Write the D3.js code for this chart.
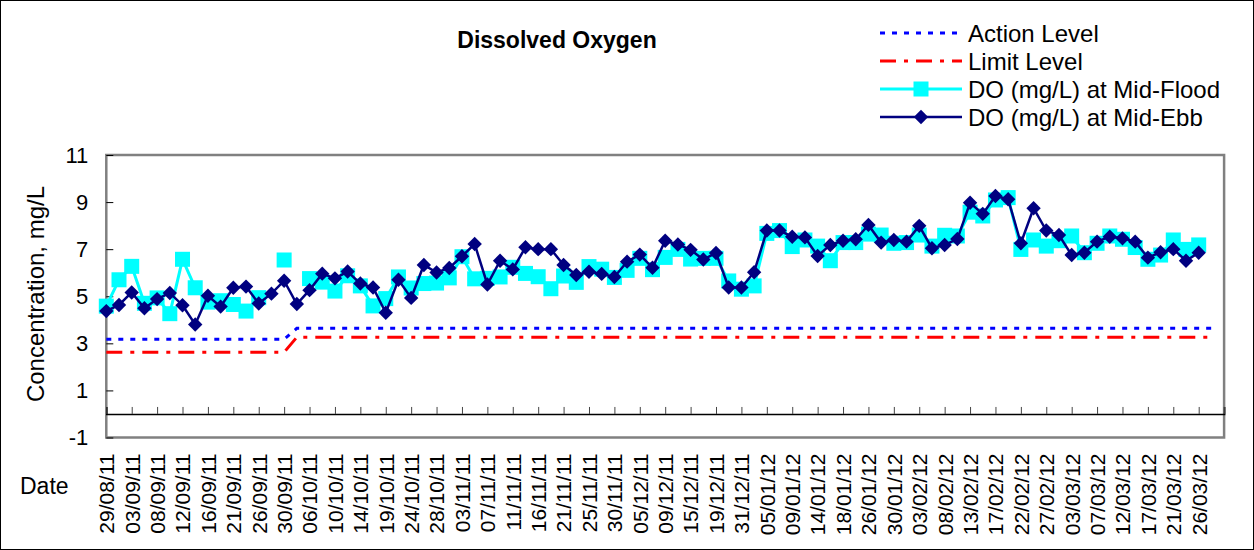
<!DOCTYPE html>
<html>
<head>
<meta charset="utf-8">
<script src="https://cdn.jsdelivr.net/npm/d3@7"></script>
<style>
  html, body { margin: 0; padding: 0; background: #fff; }
  svg { display: block; font-family: Arial, "Liberation Sans", sans-serif; }
</style>
</head>
<body>
<svg id="chart" width="1254" height="550"></svg>
<script>
// Dissolved oxygen monitoring, Aug 2011 - Mar 2012 (one value per survey)
const tickLabels = [
  "29/08/11","03/09/11","08/09/11","12/09/11","16/09/11","21/09/11","26/09/11","30/09/11",
  "06/10/11","10/10/11","14/10/11","19/10/11","24/10/11","28/10/11","03/11/11","07/11/11",
  "11/11/11","16/11/11","21/11/11","25/11/11","30/11/11","05/12/11","09/12/11","15/12/11",
  "19/12/11","31/12/11","05/01/12","09/01/12","14/01/12","18/01/12","26/01/12","30/01/12",
  "03/02/12","08/02/12","13/02/12","17/02/12","22/02/12","27/02/12","03/03/12","07/03/12",
  "12/03/12","17/03/12","21/03/12","26/03/12"
];

const doMidFlood = [
  4.58, 5.70, 6.27, 4.70, 4.93, 4.26, 6.57, 5.36, 4.75, 4.81,
  4.65, 4.37, 4.94, null, 6.54, null, 5.75, 5.60, 5.22, 5.87,
  5.44, 4.59, 4.90, 5.82, 5.35, 5.54, 5.56, 5.78, 6.68, 5.74,
  5.76, 5.82, 6.23, 5.97, 5.83, 5.32, 5.86, 5.59, 6.26, 6.15,
  5.80, 6.10, 6.61, 6.13, 6.65, 6.99, 6.58, 6.61, 6.61, 5.65,
  5.30, 5.44, 7.67, 7.79, 7.11, 7.39, 7.13, 6.51, 7.28, 7.28,
  7.64, 7.60, 7.25, 7.28, 7.60, 7.13, 7.59, 7.56, 8.57, 8.41,
  9.09, 9.19, 6.99, 7.39, 7.13, 7.36, 7.56, 6.85, 7.25, 7.56,
  7.42, 7.07, 6.57, 6.75, 7.39, 6.99, 7.18
];

const doMidEbb = [
  4.37, 4.63, 5.16, 4.49, 4.88, 5.14, 4.62, 3.80, 5.02, 4.56,
  5.36, 5.41, 4.69, 5.11, 5.66, 4.67, 5.26, 5.96, 5.76, 6.05,
  5.54, 5.37, 4.30, 5.70, 4.93, 6.33, 6.01, 6.20, 6.70, 7.22,
  5.50, 6.51, 6.14, 7.08, 7.00, 7.00, 6.33, 5.90, 6.04, 5.95,
  5.82, 6.47, 6.77, 6.21, 7.36, 7.20, 6.97, 6.56, 6.84, 5.37,
  5.37, 6.02, 7.79, 7.79, 7.53, 7.50, 6.71, 7.18, 7.36, 7.42,
  8.03, 7.28, 7.39, 7.32, 7.99, 7.04, 7.18, 7.43, 8.97, 8.50,
  9.26, 9.12, 7.25, 8.74, 7.79, 7.60, 6.75, 6.85, 7.32, 7.53,
  7.46, 7.32, 6.64, 6.87, 7.00, 6.51, 6.85
];

// Action / limit levels: [survey index, level]
const actionLevel = [[0, 3.17], [14, 3.17], [15, 3.64], [87, 3.64]];
const limitLevel  = [[0, 2.62], [14, 2.62], [15, 3.26], [87, 3.26]];

const yTicks = [-1, 1, 3, 5, 7, 9, 11];
const categoryCount = 89;

const svg = d3.select("#chart");
const W = 1254, H = 550;
const plot = { left: 106.3, right: 1224.1, top: 155, bottom: 437.5 };

const x = d3.scaleLinear().domain([0, categoryCount - 1]).range([plot.left, plot.right]);
const y = d3.scaleLinear().domain([-1, 11]).range([plot.bottom, plot.top]);

// outer chart border
svg.append("rect").attr("x", 0.5).attr("y", 0.5).attr("width", W - 1).attr("height", H - 1)
  .attr("fill", "#fff").attr("stroke", "#000").attr("stroke-width", 1);

// plot area
svg.append("rect")
  .attr("x", plot.left).attr("y", plot.top)
  .attr("width", plot.right - plot.left).attr("height", plot.bottom - plot.top)
  .attr("fill", "#fff").attr("stroke", "#808080").attr("stroke-width", 2.5);

// y axis (ticks inside the plot)
const yAxis = svg.append("g").attr("transform", `translate(${plot.left},0)`)
  .call(d3.axisLeft(y).tickValues(yTicks).tickSize(-7).tickPadding(18).tickFormat((d) => String(d)));
yAxis.select(".domain").remove();
yAxis.selectAll(".tick line").attr("stroke", "#000").attr("stroke-width", 1);
yAxis.selectAll(".tick text").attr("font-size", 22).attr("fill", "#000")
  .attr("font-family", "Arial, 'Liberation Sans', sans-serif");

// zero line with category tick marks
const zeroY = y(0);
const tickIdx = d3.range(0, categoryCount, 2);
const xTickAxis = svg.append("g").attr("transform", `translate(0,${zeroY})`)
  .call(d3.axisBottom(x).tickValues(tickIdx).tickSize(-7).tickFormat(""));
xTickAxis.select(".domain").attr("stroke", "#000").attr("stroke-width", 1.6);
xTickAxis.selectAll(".tick line").attr("stroke", "#444").attr("stroke-width", 1);

// category labels below the plot
const xLabelAxis = svg.append("g").attr("transform", `translate(0,${plot.bottom})`)
  .call(d3.axisBottom(x).tickValues(tickLabels.map((d, i) => i * 2)).tickSize(0)
    .tickFormat((d) => tickLabels[d / 2]));
xLabelAxis.select(".domain").remove();
xLabelAxis.selectAll(".tick text")
  .attr("font-size", 21).attr("fill", "#000")
  .attr("font-family", "Arial, 'Liberation Sans', sans-serif")
  .attr("text-anchor", "end")
  .attr("transform", "rotate(-90)")
  .attr("x", -16).attr("y", 0).attr("dy", "0.35em");

// level lines
const levelLine = d3.line().x((d) => x(d[0])).y((d) => y(d[1]));
svg.append("path").datum(actionLevel).attr("d", levelLine)
  .attr("fill", "none").attr("stroke", "#0000FF").attr("stroke-width", 3)
  .attr("stroke-dasharray", "5,7");
svg.append("path").datum(limitLevel).attr("d", levelLine)
  .attr("fill", "none").attr("stroke", "#FF0000").attr("stroke-width", 3)
  .attr("stroke-dasharray", "16,8,4,8");

// Mid-Flood series
const seriesLine = d3.line().defined((d) => d != null).x((d, i) => x(i)).y((d) => y(d));
svg.append("path").datum(doMidFlood).attr("d", seriesLine)
  .attr("fill", "none").attr("stroke", "#00FFFF").attr("stroke-width", 3);
const sq = 15;
svg.append("g").selectAll("rect")
  .data(doMidFlood.map((v, i) => ({ v, i })).filter((d) => d.v != null))
  .join("rect")
  .attr("x", (d) => x(d.i) - sq / 2).attr("y", (d) => y(d.v) - sq / 2)
  .attr("width", sq).attr("height", sq).attr("fill", "#00FFFF");

// Mid-Ebb series
svg.append("path").datum(doMidEbb).attr("d", seriesLine)
  .attr("fill", "none").attr("stroke", "#000080").attr("stroke-width", 2.5);
const dh = 7.2;
const diamond = `M0,${-dh}L${dh},0L0,${dh}L${-dh},0Z`;
svg.append("g").selectAll("path")
  .data(doMidEbb.map((v, i) => ({ v, i })))
  .join("path")
  .attr("d", diamond)
  .attr("transform", (d) => `translate(${x(d.i)},${y(d.v)})`)
  .attr("fill", "#000080");

// title and axis titles
svg.append("text").attr("x", 557).attr("y", 48).attr("text-anchor", "middle")
  .attr("font-size", 23).attr("font-weight", "bold").text("Dissolved Oxygen");
svg.append("text").attr("transform", `translate(44,294) rotate(-90)`)
  .attr("text-anchor", "middle").attr("font-size", 24).text("Concentration, mg/L");
svg.append("text").attr("x", 20).attr("y", 494).attr("font-size", 23).text("Date");

// legend
const legend = svg.append("g");
const lx0 = 880, lx1 = 962, ltx = 968;
const rows = [33, 61, 89, 117];
legend.append("line").attr("x1", lx0).attr("x2", lx1).attr("y1", rows[0]).attr("y2", rows[0])
  .attr("stroke", "#0000FF").attr("stroke-width", 3).attr("stroke-dasharray", "5,7");
legend.append("line").attr("x1", lx0).attr("x2", lx1).attr("y1", rows[1]).attr("y2", rows[1])
  .attr("stroke", "#FF0000").attr("stroke-width", 3).attr("stroke-dasharray", "16,8,4,8");
legend.append("line").attr("x1", lx0).attr("x2", lx1).attr("y1", rows[2]).attr("y2", rows[2])
  .attr("stroke", "#00FFFF").attr("stroke-width", 3);
legend.append("rect").attr("x", (lx0 + lx1) / 2 - sq / 2).attr("y", rows[2] - sq / 2)
  .attr("width", sq).attr("height", sq).attr("fill", "#00FFFF");
legend.append("line").attr("x1", lx0).attr("x2", lx1).attr("y1", rows[3]).attr("y2", rows[3])
  .attr("stroke", "#000080").attr("stroke-width", 2.5);
legend.append("path").attr("d", diamond)
  .attr("transform", `translate(${(lx0 + lx1) / 2},${rows[3]})`).attr("fill", "#000080");
const legendNames = ["Action Level", "Limit Level", "DO (mg/L) at Mid-Flood", "DO (mg/L) at Mid-Ebb"];
legend.selectAll("text.lg").data(legendNames).join("text").attr("class", "lg")
  .attr("x", ltx).attr("y", (d, i) => rows[i]).attr("dy", "0.36em")
  .attr("font-size", 24).text((d) => d);
</script>
</body>
</html>
